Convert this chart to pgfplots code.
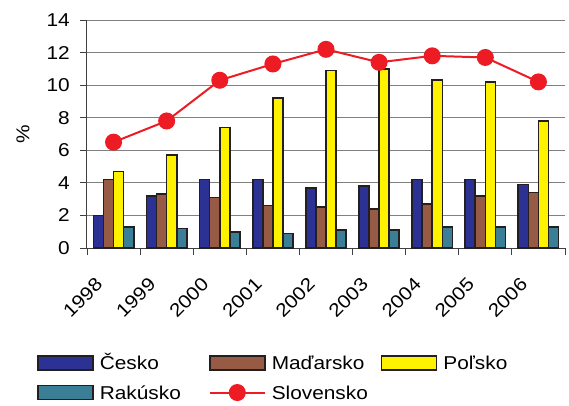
\documentclass[border=0pt]{standalone}
\usepackage{fontspec}
\setmainfont{Liberation Sans}[FakeStretch=1.12]
\usepackage{pgfplots}
\pgfplotsset{compat=1.18}
\definecolor{czc}{HTML}{2B3294}
\definecolor{huc}{HTML}{965A45}
\definecolor{plc}{HTML}{FFF200}
\definecolor{atc}{HTML}{3A7F95}
\definecolor{skc}{HTML}{ED1C24}
\definecolor{outl}{HTML}{231F20}
\pgfplotsset{
  barstyle/.style={ybar, draw=outl, line width=1.6pt, fill=#1,
    legend image code/.code={\draw[##1] (0pt,-7pt) rectangle (55pt,7pt);}},
  linelegend/.style={legend image code/.code={\draw[##1, mark repeat=2, mark phase=2] plot coordinates {(0pt,0pt) (27.5pt,0pt) (55pt,0pt)};}},
}
\begin{document}
\fontsize{18.6pt}{22pt}\selectfont
\begin{tikzpicture}
\begin{axis}[
  at={(0,0)}, anchor=south west,
  scale only axis, width=478pt, height=228pt,
  xmin=0.5, xmax=9.5, ymin=0, ymax=14,
  axis x line*=bottom, axis y line*=left,
  axis line style={black!75, line width=1pt},
  xtick={0.5,1.5,...,9.5},
  x tick label as interval,
  xticklabels={1998,1999,2000,2001,2002,2003,2004,2005,2006},
  ytick={0,2,...,14},
  tick align=outside, major tick length=7pt,
  tick style={black!75, line width=0.9pt},
  ymajorgrids, major grid style={draw=gray, line width=0.9pt},
  /pgf/number format/assume math mode=true,
  yticklabel style={inner sep=0pt, xshift=-10pt},
  xticklabel style={rotate=45, anchor=north east, inner sep=0pt, xshift=-28.5pt, yshift=-1.5pt},
  every axis y label/.style={at={(axis description cs:-0.134,0.5)}, rotate=90, anchor=center},
  ylabel={\%},
  legend columns=3,
  legend style={at={(-0.1046,-0.469)}, anchor=north west, draw=none, fill=none,
    inner sep=0pt, column sep=0pt, row sep=14pt,
    nodes={inner sep=0pt, text width=109pt, align=left, text height=13.3pt, text depth=0pt},
    /tikz/every odd column/.append style={column sep=6pt}},
  bar width=0.19,
]
\addplot[barstyle=czc, bar shift=-0.285] coordinates {(1,2.0) (2,3.2) (3,4.2) (4,4.2) (5,3.7) (6,3.8) (7,4.2) (8,4.2) (9,3.9)};
\addlegendentry{Česko}
\addplot[barstyle=huc, bar shift=-0.095] coordinates {(1,4.2) (2,3.3) (3,3.1) (4,2.6) (5,2.5) (6,2.4) (7,2.7) (8,3.2) (9,3.4)};
\addlegendentry{Maďarsko}
\addplot[barstyle=plc, bar shift=0.095] coordinates {(1,4.7) (2,5.7) (3,7.4) (4,9.2) (5,10.9) (6,11.0) (7,10.3) (8,10.2) (9,7.8)};
\addlegendentry{Poľsko}
\addplot[barstyle=atc, bar shift=0.285] coordinates {(1,1.3) (2,1.2) (3,1.0) (4,0.9) (5,1.1) (6,1.1) (7,1.3) (8,1.3) (9,1.3)};
\addlegendentry{Rakúsko}
\addplot[skc, line width=2pt, mark=*, mark size=7.5pt, mark options={fill=skc, draw=none}, linelegend]
  coordinates {(1,6.5) (2,7.8) (3,10.3) (4,11.3) (5,12.2) (6,11.4) (7,11.8) (8,11.7) (9,10.2)};
\addlegendentry{Slovensko}
\draw[gray, line width=0.9pt] (rel axis cs:1,0) -- (rel axis cs:1,1);
\end{axis}
\pgfresetboundingbox
\path (-87pt,-157pt) rectangle (482pt,248pt);
\end{tikzpicture}
\end{document}
